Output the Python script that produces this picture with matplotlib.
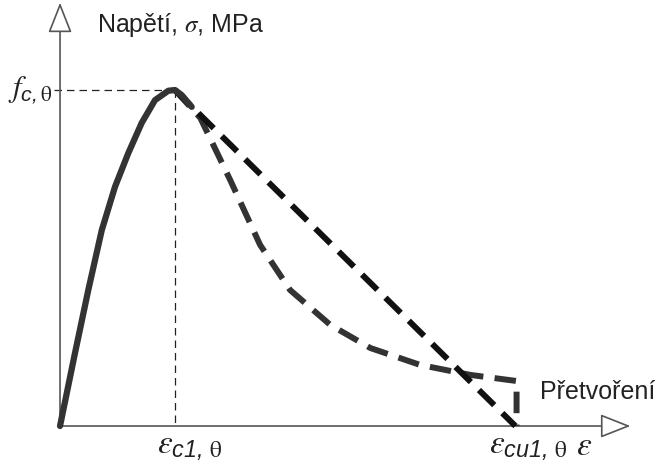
import matplotlib
matplotlib.use("Agg")
import matplotlib.pyplot as plt
from matplotlib.patches import ArrowStyle

plt.rcParams['font.family'] = ['Liberation Sans', 'DejaVu Sans']
plt.rcParams['mathtext.fontset'] = 'custom'
plt.rcParams['mathtext.rm'] = 'STIXGeneral'
plt.rcParams['mathtext.it'] = 'STIXGeneral:italic'
plt.rcParams['mathtext.sf'] = 'Liberation Sans:italic'

# normalised strain (eps / eps_c1) and stress (sigma / f_c)
rise_x = [0.0, 0.13, 0.246, 0.363, 0.478, 0.594, 0.71, 0.826, 0.942, 1.0, 1.058, 1.145]
rise_y = [0.0, 0.217, 0.405, 0.583, 0.712, 0.8125, 0.902, 0.97, 0.998, 1.0, 0.985, 0.95]

linear_x = [1.0, 3.96]
linear_y = [1.0, 0.0]

curved_x = [1.0, 1.22, 1.48, 1.74, 2.0, 2.35, 2.70, 3.13, 3.57, 3.97, 3.97]
curved_y = [1.0, 0.917, 0.732, 0.539, 0.405, 0.301, 0.232, 0.182, 0.152, 0.134, 0.0]

eps_c1 = 1.0
eps_cu1 = 3.96
f_c = 1.0

fig = plt.figure(figsize=(6.61, 4.66), dpi=100)
ax = fig.add_axes([0, 0, 1, 1])
ax.set_xlim(-0.522, 5.226)
ax.set_ylim(-0.119, 1.268)
ax.axis('off')

# axes with hollow arrow heads
style = ArrowStyle('-|>', head_length=1.9, head_width=0.75)
ax.annotate('', xy=(0, 1.26), xytext=(0, 0),
            arrowprops=dict(arrowstyle=style, mutation_scale=10, fc='white',
                            ec='#555555', lw=1.2, shrinkA=0, shrinkB=0))
ax.annotate('', xy=(4.96, 0), xytext=(0, 0),
            arrowprops=dict(arrowstyle=style, mutation_scale=10, fc='white',
                            ec='#555555', lw=1.2, shrinkA=0, shrinkB=0))

# guide lines to the peak
ax.plot([-0.05, eps_c1], [f_c, f_c], color='#222222', lw=0.9, dashes=(6, 4))
ax.plot([eps_c1, eps_c1], [f_c, 0], color='#222222', lw=0.9, dashes=(6, 4))

ax.plot(curved_x, curved_y, color='#333333', lw=4.3, dashes=(3.6, 1.9),
        dash_capstyle='butt', zorder=3)
ax.plot(linear_x, linear_y, color='#111111', lw=4.3, dashes=(3.6, 1.9),
        dash_capstyle='butt', zorder=4)
ax.plot(rise_x, rise_y, color='#333333', lw=4.5, solid_capstyle='round',
        solid_joinstyle='round', zorder=5)

ax.text(0.32, 1.195, r'Napětí, $\sigma$, MPa', fontsize=18, ha='left', va='center', color='#222222')

ax.text(-0.06, f_c, r'$f_{\mathsf{c,}\mathrm{\theta}}$', fontsize=22, ha='right', va='center', color='#222222')
ax.text(0.84, -0.06, r'$\varepsilon_{\mathsf{c1,}\,\mathrm{\theta}}$', fontsize=24, ha='left', va='center', color='#222222')
ax.text(3.73, -0.06, r'$\varepsilon_{\mathsf{cu1,}\,\mathrm{\theta}}$', fontsize=24, ha='left', va='center', color='#222222')
ax.text(4.56, -0.06, r'$\varepsilon$', fontsize=24, ha='center', va='center', color='#222222')
ax.text(4.17, 0.10, 'Přetvoření', fontsize=18, ha='left', va='center', color='#222222')

fig.savefig('out.png', dpi=100)
